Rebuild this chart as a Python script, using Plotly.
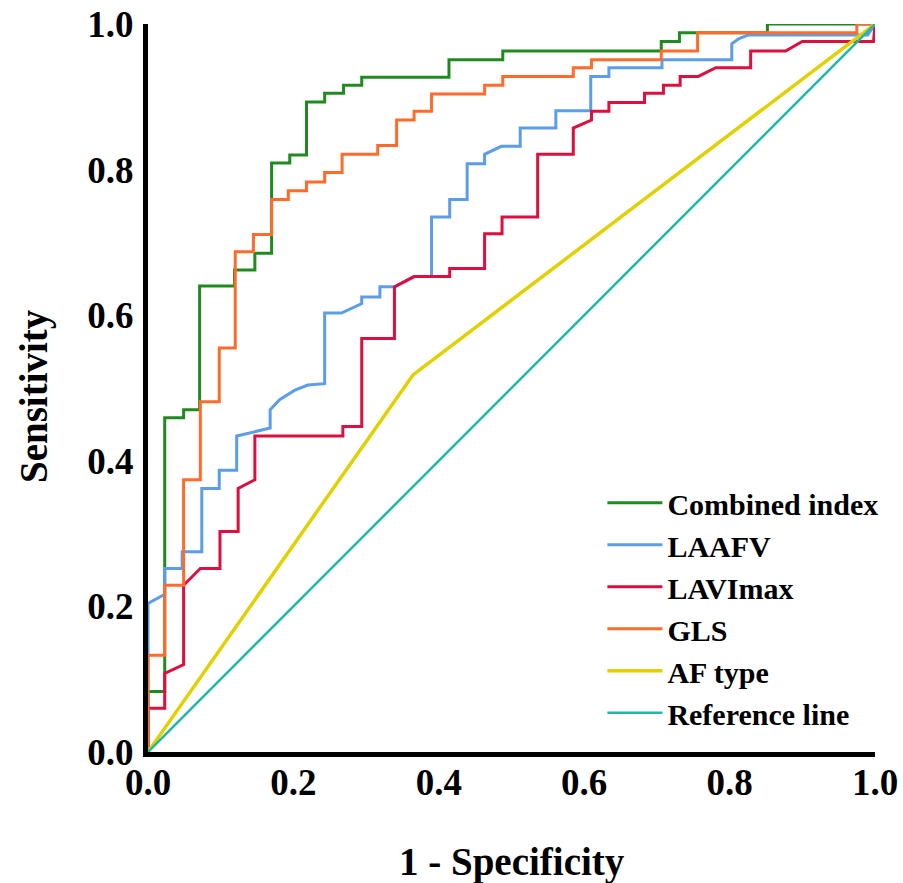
import plotly.graph_objects as go

# ---- data (vertices of the ROC step curves) ----
combined_x = [0, 0, 0.023, 0.023, 0.049, 0.049, 0.071, 0.071, 0.119, 0.119, 0.147, 0.147,
              0.170, 0.170, 0.195, 0.195, 0.218, 0.218, 0.243, 0.243, 0.269, 0.269, 0.294, 0.294,
              0.414, 0.414, 0.488, 0.488, 0.706, 0.706, 0.731, 0.731, 0.852, 0.852, 1.0]
combined_y = [0, 0.083, 0.083, 0.459, 0.459, 0.470, 0.470, 0.640, 0.640, 0.662, 0.662, 0.685,
              0.685, 0.809, 0.809, 0.820, 0.820, 0.893, 0.893, 0.905, 0.905, 0.916, 0.916, 0.927,
              0.927, 0.951, 0.951, 0.963, 0.963, 0.976, 0.976, 0.988, 0.988, 1.0, 1.0]

laafv_x = [0, 0, 0.022, 0.023, 0.023, 0.047, 0.047, 0.074, 0.074, 0.098, 0.098, 0.122, 0.122,
           0.147, 0.168, 0.168, 0.181, 0.202, 0.220, 0.243, 0.243, 0.266, 0.294, 0.294, 0.319,
           0.319, 0.339, 0.366, 0.390, 0.390, 0.415, 0.415, 0.439, 0.439, 0.463, 0.463, 0.486,
           0.512, 0.512, 0.561, 0.561, 0.609, 0.609, 0.634, 0.634, 0.707, 0.707, 0.803, 0.803,
           0.813, 0.826, 0.990, 1.0]
laafv_y = [0, 0.204, 0.216, 0.216, 0.252, 0.252, 0.275, 0.275, 0.362, 0.362, 0.387, 0.387, 0.434,
           0.440, 0.445, 0.470, 0.484, 0.497, 0.504, 0.506, 0.603, 0.603, 0.616, 0.625, 0.625,
           0.639, 0.639, 0.653, 0.653, 0.735, 0.735, 0.759, 0.759, 0.808, 0.808, 0.821, 0.832,
           0.832, 0.857, 0.857, 0.881, 0.881, 0.928, 0.928, 0.940, 0.940, 0.951, 0.951, 0.973,
           0.980, 0.985, 0.985, 1.0]

lavi_x = [0, 0, 0.023, 0.023, 0.049, 0.049, 0.072, 0.099, 0.099, 0.124, 0.124, 0.147, 0.147,
          0.268, 0.268, 0.294, 0.294, 0.339, 0.339, 0.366, 0.415, 0.415, 0.463, 0.463, 0.487,
          0.487, 0.536, 0.536, 0.585, 0.585, 0.610, 0.610, 0.634, 0.634, 0.683, 0.683, 0.709,
          0.709, 0.732, 0.732, 0.757, 0.781, 0.829, 0.829, 0.877, 0.900, 0.998, 1.0]
lavi_y = [0, 0.060, 0.060, 0.108, 0.120, 0.229, 0.252, 0.252, 0.303, 0.303, 0.362, 0.374, 0.434,
          0.434, 0.447, 0.447, 0.568, 0.568, 0.639, 0.653, 0.653, 0.664, 0.664, 0.712, 0.712,
          0.735, 0.735, 0.821, 0.821, 0.857, 0.868, 0.880, 0.880, 0.892, 0.892, 0.905, 0.905,
          0.916, 0.916, 0.928, 0.928, 0.940, 0.940, 0.963, 0.963, 0.976, 0.976, 1.0]

gls_x = [0, 0, 0.023, 0.023, 0.049, 0.049, 0.072, 0.072, 0.098, 0.098, 0.120, 0.120, 0.145, 0.145,
         0.170, 0.170, 0.193, 0.193, 0.218, 0.218, 0.243, 0.243, 0.267, 0.267, 0.316, 0.316,
         0.342, 0.342, 0.366, 0.366, 0.390, 0.390, 0.463, 0.463, 0.488, 0.488, 0.585, 0.585,
         0.610, 0.610, 0.706, 0.706, 0.756, 0.756, 0.975, 0.975, 1.0]
gls_y = [0, 0.133, 0.133, 0.229, 0.229, 0.374, 0.374, 0.481, 0.481, 0.555, 0.555, 0.687, 0.687,
         0.711, 0.711, 0.759, 0.759, 0.771, 0.771, 0.783, 0.783, 0.796, 0.796, 0.821, 0.821,
         0.833, 0.833, 0.868, 0.868, 0.880, 0.880, 0.904, 0.904, 0.916, 0.916, 0.928, 0.928,
         0.940, 0.940, 0.951, 0.951, 0.963, 0.963, 0.988, 0.988, 1.0, 1.0]

af_x = [0, 0.3645, 1.0]
af_y = [0, 0.518, 1.0]

ref_x = [0, 1.0]
ref_y = [0, 1.0]

tick_vals = [0.0, 0.2, 0.4, 0.6, 0.8, 1.0]
tick_text = ["0.0", "0.2", "0.4", "0.6", "0.8", "1.0"]

series = [
    ("Combined index", combined_x, combined_y, "#1f8a1f", 3),
    ("LAAFV", laafv_x, laafv_y, "#5b9de9", 3),
    ("LAVImax", lavi_x, lavi_y, "#dc0f3f", 3),
    ("GLS", gls_x, gls_y, "#ff6b2b", 3),
    ("AF type", af_x, af_y, "#e3d000", 3.5),
    ("Reference line", ref_x, ref_y, "#1fb8a8", 2.5),
]

FONT = "Liberation Serif"

fig = go.Figure()
for name, xs, ys, col, w in series:
    fig.add_trace(go.Scatter(x=xs, y=ys, mode="lines", name=name,
                             line=dict(color=col, width=w)))

axis_common = dict(
    range=[0, 1.0], showgrid=False, zeroline=False, showline=True,
    linecolor="black", linewidth=5, ticks="", automargin=False,
    tickvals=tick_vals, ticktext=tick_text,
    tickfont=dict(family=FONT, size=37, color="black", weight="bold"),
)

title_font = dict(family=FONT, size=39, color="black", weight="bold")

fig.update_layout(
    width=903, height=883,
    margin=dict(l=148, r=28, t=24, b=131),
    paper_bgcolor="white", plot_bgcolor="white",
    xaxis=dict(**axis_common, ticklabelstandoff=-6),
    yaxis=dict(**axis_common, ticklabelstandoff=2),
    legend=dict(x=0.625, y=0.378, xanchor="left", yanchor="top",
                bgcolor="rgba(0,0,0,0)", itemwidth=55,
                font=dict(family=FONT, size=30, color="black", weight="bold"),
                tracegroupgap=0),
    showlegend=True,
    annotations=[
        dict(text="1 - Specificity", xref="paper", yref="paper", x=0.5, y=0,
             xanchor="center", yanchor="middle", yshift=-110, showarrow=False,
             font=title_font),
        dict(text="Sensitivity", xref="paper", yref="paper", x=0, y=0.489,
             xanchor="center", yanchor="middle", xshift=-114, textangle=-90,
             showarrow=False, font=title_font),
    ],
)

fig.write_html("out.html",
               config={"displayModeBar": False},
               post_script="document.body.style.margin='0px';document.body.style.padding='0px';")
